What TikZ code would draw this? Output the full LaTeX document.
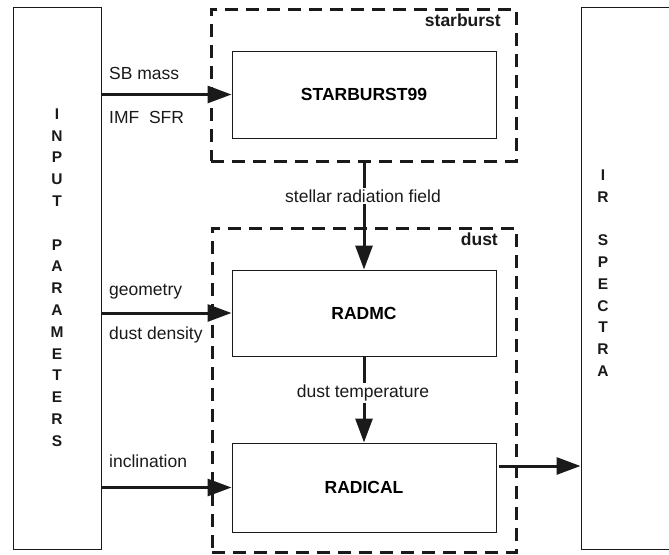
\documentclass[tikz,border=0pt]{standalone}
\usepackage{fontspec}
\setmainfont{Liberation Sans}
\usetikzlibrary{arrows.meta}
\definecolor{ink}{HTML}{1A1A1A}
\begin{document}
\begin{tikzpicture}[x=1pt,y=-1pt,
  box/.style={draw=ink, line width=1pt, inner sep=0pt, fill=white},
  grp/.style={draw=ink, line width=3pt, dash pattern=on 13pt off 8pt},
  flow/.style={draw=ink, line width=3pt, -{Triangle[length=24pt,width=17pt]}},
  lbl/.style={font=\fontsize{17.5}{20}\selectfont, text=ink, inner sep=0pt},
  blbl/.style={font=\bfseries\fontsize{17.5}{20}\selectfont, text=ink, inner sep=0pt},
  stack/.style={font=\bfseries\fontsize{15.5}{21.8}\selectfont, text=ink, align=center, inner sep=0pt}]
\useasboundingbox (0,0) rectangle (669,554);
\clip (0,0) rectangle (669,554);
% side boxes
\node[box, minimum width=88pt, minimum height=542pt] (inp) at (57,278) {};
\node[box, minimum width=140pt, minimum height=542pt] (out) at (651,278) {};
\node[stack] (inptext) at (57,277.5) {I\\N\\P\\U\\T\\[21.8pt]P\\A\\R\\A\\M\\E\\T\\E\\R\\S};
\node[stack] (outtext) at (603,273) {I\\R\\[21.8pt]S\\P\\E\\C\\T\\R\\A};
% groups
\node[grp, minimum width=305pt, minimum height=152pt, inner sep=0pt] (sbgrp) at (363.5,85) {};
\node[grp, minimum width=304pt, minimum height=324pt, inner sep=0pt] (dustgrp) at (364,390) {};
\node[blbl, anchor=base east] (sblabel) at (501,27) {starburst};
\node[blbl, anchor=base east] (dustlabel) at (498,245) {dust};
% inner boxes
\node[box, minimum width=264pt, minimum height=87pt] (sb) at (364,94.5) {\bfseries\fontsize{17.5}{20}\selectfont STARBURST99};
\node[box, minimum width=264pt, minimum height=86pt] (radmc) at (364,313) {\bfseries\fontsize{17.5}{20}\selectfont RADMC};
\node[box, minimum width=264pt, minimum height=89pt] (radical) at (364,487.5) {\bfseries\fontsize{17.5}{20}\selectfont RADICAL};
\coordinate (outstart) at ([xshift=2pt,yshift=21.5pt]radical.east);
% arrows
\draw[flow] (inp.east |- sb.west) -- (sb.west);
\draw[flow] (inp.east |- radmc.west) -- (radmc.west);
\draw[flow] (inp.east |- radical.west) -- (radical.west);
\draw[flow] (sbgrp.south -| radmc.north) -- (radmc.north);
\draw[flow] (radmc.south) -- (radical.north);
\draw[flow] (outstart) -- (out.west |- outstart);
% labels
\node[lbl, fill=white, inner sep=2pt] (stellar) at (363,196) {stellar radiation field};
\node[lbl, fill=white, inner sep=2pt] (dtemp) at (363,393) {dust temperature};
\node[lbl, anchor=west] (sbmass) at (109,73) {SB mass};
\node[lbl, anchor=west] (imf) at (109,117) {IMF\ \ SFR};
\node[lbl, anchor=west] (geom) at (109,292) {geometry};
\node[lbl, anchor=west] (dens) at (109,335) {dust density};
\node[lbl, anchor=west] (incl) at (109,461) {inclination};
\end{tikzpicture}
\end{document}
